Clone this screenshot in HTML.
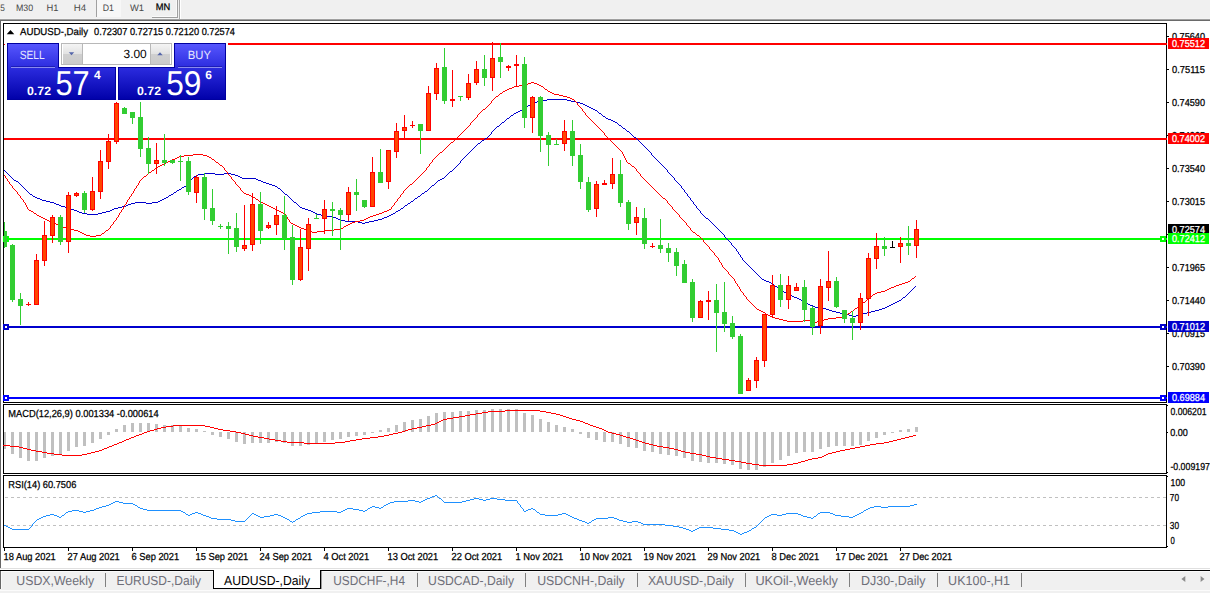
<!DOCTYPE html><html><head><meta charset="utf-8"><title>AUDUSD-,Daily</title><style>html,body{margin:0;padding:0;background:#fff;overflow:hidden}svg{display:block}</style></head><body><svg width="1210" height="593" viewBox="0 0 1210 593" font-family="Liberation Sans, sans-serif" style="text-rendering:geometricPrecision">
<rect x="0" y="0" width="1210" height="593" fill="#ffffff" />
<rect x="0" y="0" width="1210" height="19" fill="#f0f0f0" />
<rect x="0" y="18" width="1210" height="1" fill="#f3f3f3" />
<rect x="0" y="19" width="1210" height="1" fill="#a0a0a0" />
<rect x="0" y="20" width="1210" height="1" fill="#6a6a6a" />
<g shape-rendering="crispEdges">
<rect x="3" y="23" width="1164" height="1" fill="#000" />
<rect x="3" y="23" width="1" height="525" fill="#000" />
<rect x="1166" y="23" width="1" height="525" fill="#000" />
<rect x="3" y="402" width="1164" height="1" fill="#000" />
<rect x="3" y="404" width="1164" height="1" fill="#000" />
<rect x="3" y="473" width="1164" height="1" fill="#000" />
<rect x="3" y="475" width="1164" height="1" fill="#000" />
<rect x="3" y="547" width="1164" height="1" fill="#000" />
<rect x="3" y="403" width="1164" height="1" fill="#fff" />
<rect x="3" y="474" width="1164" height="1" fill="#fff" />
</g>
<defs><clipPath id="cm"><rect x="4" y="24" width="1162" height="378"/></clipPath>
<linearGradient id="gb" gradientUnits="userSpaceOnUse" x1="0" y1="43" x2="0" y2="100"><stop offset="0" stop-color="#5858ff"/><stop offset="0.45" stop-color="#2a2add"/><stop offset="1" stop-color="#0000a8"/></linearGradient>
<linearGradient id="gs" x1="0" y1="0" x2="0" y2="1"><stop offset="0" stop-color="#f4f4f4"/><stop offset="0.5" stop-color="#e2e2e2"/><stop offset="0.5" stop-color="#d0d0d0"/><stop offset="1" stop-color="#cacaca"/></linearGradient>
</defs>
<g clip-path="url(#cm)" shape-rendering="crispEdges">
<rect x="4" y="43" width="1162" height="2" fill="#ff0000" />
<rect x="4" y="138" width="1162" height="2" fill="#ff0000" />
<rect x="4" y="238" width="1162" height="2" fill="#00ff00" />
<rect x="4" y="326" width="1162" height="2" fill="#0000cd" />
<rect x="4" y="397" width="1162" height="2" fill="#0000ff" />
<path d="M547 99h20v1h-20zM541 100h6v1h-6zM567 100h4v1h-4zM537 101h4v1h-4zM571 101h5v1h-5zM534 102h3v1h-3zM576 102h4v1h-4zM532 103h2v1h-2zM580 103h3v1h-3zM530 104h2v1h-2zM583 104h2v1h-2zM528 105h2v1h-2zM585 105h2v1h-2zM526 106h2v1h-2zM587 106h2v1h-2zM525 107h1v1h-1zM589 107h2v1h-2zM523 108h2v1h-2zM591 108h2v1h-2zM522 109h1v1h-1zM593 109h2v1h-2zM520 110h2v1h-2zM595 110h2v1h-2zM518 111h2v1h-2zM597 111h1v1h-1zM516 112h2v1h-2zM598 112h1v1h-1zM514 113h2v1h-2zM599 113h2v1h-2zM513 114h1v1h-1zM601 114h1v1h-1zM511 115h2v1h-2zM602 115h1v1h-1zM510 116h1v1h-1zM603 116h2v1h-2zM509 117h1v1h-1zM605 117h1v1h-1zM507 118h2v1h-2zM606 118h2v1h-2zM506 119h1v1h-1zM608 119h3v1h-3zM505 120h1v1h-1zM611 120h2v1h-2zM504 121h1v1h-1zM613 121h2v1h-2zM502 122h2v1h-2zM615 122h2v1h-2zM501 123h1v1h-1zM617 123h1v1h-1zM500 124h1v1h-1zM618 124h1v1h-1zM499 125h1v1h-1zM619 125h2v1h-2zM497 126h2v1h-2zM621 126h1v1h-1zM496 127h1v1h-1zM622 127h1v1h-1zM495 128h1v1h-1zM623 128h2v1h-2zM494 129h1v1h-1zM625 129h1v1h-1zM493 130h1v1h-1zM626 130h1v1h-1zM492 131h1v1h-1zM627 131h2v1h-2zM629 132h1v1h-1zM491 132h1v2h-1zM630 133h1v1h-1zM490 134h1v1h-1zM631 134h1v1h-1zM489 135h1v1h-1zM632 135h1v1h-1zM488 136h1v1h-1zM633 136h1v1h-1zM487 137h1v1h-1zM634 137h2v1h-2zM485 138h2v1h-2zM636 138h1v1h-1zM484 139h1v1h-1zM637 139h1v1h-1zM482 140h2v1h-2zM638 140h1v1h-1zM481 141h1v1h-1zM639 141h1v1h-1zM480 142h1v1h-1zM640 142h1v1h-1zM478 143h2v1h-2zM641 143h1v1h-1zM477 144h1v1h-1zM642 144h1v1h-1zM476 145h1v1h-1zM643 145h1v1h-1zM475 146h1v1h-1zM644 146h1v1h-1zM474 147h1v1h-1zM645 147h1v1h-1zM473 148h1v1h-1zM646 148h1v1h-1zM472 149h1v1h-1zM647 149h1v1h-1zM471 150h1v1h-1zM648 150h1v1h-1zM470 151h1v1h-1zM649 151h1v1h-1zM469 152h1v1h-1zM650 152h1v1h-1zM468 153h1v1h-1zM651 153h1v2h-1zM467 154h1v1h-1zM466 155h1v1h-1zM652 155h1v1h-1zM465 156h1v1h-1zM653 156h1v1h-1zM464 157h1v1h-1zM654 157h1v1h-1zM463 158h1v1h-1zM655 158h1v1h-1zM462 159h1v1h-1zM656 159h1v1h-1zM461 160h1v1h-1zM657 160h1v1h-1zM658 161h1v1h-1zM460 161h1v2h-1zM659 162h1v1h-1zM459 163h1v1h-1zM660 163h1v1h-1zM458 164h1v1h-1zM661 164h1v1h-1zM457 165h1v1h-1zM662 165h1v1h-1zM456 166h1v1h-1zM663 166h1v1h-1zM455 167h1v1h-1zM664 167h1v1h-1zM454 168h1v1h-1zM665 168h1v1h-1zM453 169h1v1h-1zM666 169h1v1h-1zM4 170h1v1h-1zM452 170h1v1h-1zM667 170h1v2h-1zM5 171h1v1h-1zM450 171h2v1h-2zM6 172h1v1h-1zM449 172h1v1h-1zM668 172h1v1h-1zM7 173h1v1h-1zM204 173h11v1h-11zM224 173h7v1h-7zM448 173h1v1h-1zM669 173h1v1h-1zM8 174h1v1h-1zM198 174h6v1h-6zM215 174h9v1h-9zM231 174h4v1h-4zM447 174h1v1h-1zM670 174h1v1h-1zM9 175h1v1h-1zM196 175h2v1h-2zM235 175h3v1h-3zM446 175h1v1h-1zM671 175h1v1h-1zM10 176h1v1h-1zM194 176h2v1h-2zM238 176h2v1h-2zM445 176h1v1h-1zM672 176h1v1h-1zM11 177h1v1h-1zM193 177h1v1h-1zM240 177h2v1h-2zM444 177h1v1h-1zM673 177h1v1h-1zM12 178h1v1h-1zM192 178h1v1h-1zM242 178h14v1h-14zM442 178h2v1h-2zM674 178h1v2h-1zM13 179h1v1h-1zM191 179h1v1h-1zM256 179h2v1h-2zM440 179h2v1h-2zM14 180h2v1h-2zM190 180h1v1h-1zM258 180h3v1h-3zM438 180h2v1h-2zM675 180h1v1h-1zM16 181h2v1h-2zM189 181h1v1h-1zM261 181h2v1h-2zM437 181h1v1h-1zM676 181h1v1h-1zM18 182h1v1h-1zM263 182h3v1h-3zM436 182h1v1h-1zM677 182h1v1h-1zM188 182h1v2h-1zM19 183h1v1h-1zM266 183h3v1h-3zM435 183h1v1h-1zM678 183h1v1h-1zM20 184h1v1h-1zM187 184h1v1h-1zM269 184h3v1h-3zM434 184h1v1h-1zM679 184h1v1h-1zM21 185h1v1h-1zM186 185h1v1h-1zM272 185h3v1h-3zM432 185h2v1h-2zM680 185h1v1h-1zM22 186h1v1h-1zM184 186h2v1h-2zM275 186h2v1h-2zM431 186h1v1h-1zM681 186h1v2h-1zM23 187h1v1h-1zM182 187h2v1h-2zM277 187h1v1h-1zM430 187h1v1h-1zM24 188h1v1h-1zM181 188h1v1h-1zM278 188h2v1h-2zM429 188h1v1h-1zM682 188h1v1h-1zM25 189h1v1h-1zM179 189h2v1h-2zM280 189h1v1h-1zM428 189h1v1h-1zM683 189h1v1h-1zM26 190h1v1h-1zM177 190h2v1h-2zM281 190h1v1h-1zM427 190h1v1h-1zM684 190h1v2h-1zM27 191h1v1h-1zM176 191h1v1h-1zM282 191h1v1h-1zM425 191h2v1h-2zM28 192h1v1h-1zM174 192h2v1h-2zM283 192h1v1h-1zM424 192h1v1h-1zM685 192h1v1h-1zM29 193h1v1h-1zM173 193h1v1h-1zM284 193h1v1h-1zM422 193h2v1h-2zM686 193h1v1h-1zM30 194h2v1h-2zM171 194h2v1h-2zM285 194h2v1h-2zM421 194h1v1h-1zM687 194h1v2h-1zM32 195h1v1h-1zM169 195h2v1h-2zM287 195h1v1h-1zM420 195h1v1h-1zM33 196h2v1h-2zM168 196h1v1h-1zM288 196h1v1h-1zM418 196h2v1h-2zM688 196h1v1h-1zM35 197h2v1h-2zM166 197h2v1h-2zM289 197h1v1h-1zM417 197h1v1h-1zM689 197h1v1h-1zM37 198h3v1h-3zM164 198h2v1h-2zM290 198h1v1h-1zM415 198h2v1h-2zM690 198h1v2h-1zM40 199h2v1h-2zM162 199h2v1h-2zM291 199h1v1h-1zM414 199h1v1h-1zM42 200h4v1h-4zM160 200h2v1h-2zM292 200h1v1h-1zM413 200h1v1h-1zM691 200h1v1h-1zM46 201h4v1h-4zM158 201h2v1h-2zM293 201h1v1h-1zM411 201h2v1h-2zM692 201h1v1h-1zM50 202h4v1h-4zM135 202h11v1h-11zM152 202h6v1h-6zM294 202h2v1h-2zM410 202h1v1h-1zM693 202h1v2h-1zM54 203h2v1h-2zM131 203h4v1h-4zM146 203h6v1h-6zM296 203h1v1h-1zM408 203h2v1h-2zM56 204h3v1h-3zM128 204h3v1h-3zM297 204h1v1h-1zM407 204h1v1h-1zM694 204h1v1h-1zM59 205h2v1h-2zM126 205h2v1h-2zM298 205h1v1h-1zM405 205h2v1h-2zM695 205h1v1h-1zM61 206h4v1h-4zM122 206h4v1h-4zM299 206h1v1h-1zM404 206h1v1h-1zM696 206h1v2h-1zM65 207h3v1h-3zM118 207h4v1h-4zM300 207h2v1h-2zM403 207h1v1h-1zM68 208h3v1h-3zM114 208h4v1h-4zM302 208h3v1h-3zM401 208h2v1h-2zM697 208h1v1h-1zM71 209h3v1h-3zM112 209h2v1h-2zM305 209h3v1h-3zM400 209h1v1h-1zM698 209h1v1h-1zM74 210h3v1h-3zM110 210h2v1h-2zM308 210h3v1h-3zM398 210h2v1h-2zM699 210h1v1h-1zM77 211h2v1h-2zM106 211h4v1h-4zM311 211h2v1h-2zM396 211h2v1h-2zM700 211h1v2h-1zM79 212h3v1h-3zM102 212h4v1h-4zM313 212h2v1h-2zM395 212h1v1h-1zM82 213h5v1h-5zM98 213h4v1h-4zM315 213h2v1h-2zM393 213h2v1h-2zM701 213h1v1h-1zM87 214h11v1h-11zM317 214h4v1h-4zM391 214h2v1h-2zM702 214h1v1h-1zM321 215h5v1h-5zM389 215h2v1h-2zM703 215h1v1h-1zM326 216h6v1h-6zM387 216h2v1h-2zM704 216h1v1h-1zM332 217h4v1h-4zM384 217h3v1h-3zM705 217h1v1h-1zM336 218h2v1h-2zM382 218h2v1h-2zM706 218h2v1h-2zM338 219h2v1h-2zM378 219h4v1h-4zM708 219h1v1h-1zM340 220h5v1h-5zM374 220h4v1h-4zM709 220h1v1h-1zM345 221h13v1h-13zM369 221h5v1h-5zM710 221h1v1h-1zM358 222h4v1h-4zM365 222h4v1h-4zM711 222h1v1h-1zM362 223h3v1h-3zM712 223h1v1h-1zM713 224h1v1h-1zM714 225h1v1h-1zM715 226h1v1h-1zM716 227h1v1h-1zM717 228h1v1h-1zM718 229h1v1h-1zM719 230h1v1h-1zM720 231h1v1h-1zM721 232h1v1h-1zM722 233h1v1h-1zM723 234h1v1h-1zM724 235h1v2h-1zM725 237h1v1h-1zM726 238h1v1h-1zM727 239h1v1h-1zM728 240h1v1h-1zM729 241h1v1h-1zM730 242h1v1h-1zM731 243h1v2h-1zM732 245h1v1h-1zM733 246h1v1h-1zM734 247h1v1h-1zM735 248h1v1h-1zM736 249h1v2h-1zM737 251h1v1h-1zM738 252h1v2h-1zM739 254h1v1h-1zM740 255h1v2h-1zM741 257h1v1h-1zM742 258h1v2h-1zM743 260h1v1h-1zM744 261h1v1h-1zM745 262h1v1h-1zM746 263h1v1h-1zM747 264h1v1h-1zM748 265h1v1h-1zM749 266h1v1h-1zM750 267h1v1h-1zM751 268h1v1h-1zM752 269h1v1h-1zM753 270h1v1h-1zM754 271h1v1h-1zM755 272h1v1h-1zM756 273h1v1h-1zM757 274h1v1h-1zM758 275h1v1h-1zM759 276h1v1h-1zM760 277h1v1h-1zM761 278h1v1h-1zM762 279h2v1h-2zM764 280h2v1h-2zM766 281h3v1h-3zM769 282h2v1h-2zM771 283h2v1h-2zM773 284h1v1h-1zM774 285h1v1h-1zM775 286h2v1h-2zM915 286h1v1h-1zM777 287h1v1h-1zM914 287h1v1h-1zM778 288h1v1h-1zM913 288h1v1h-1zM779 289h1v1h-1zM912 289h1v1h-1zM780 290h2v1h-2zM911 290h1v1h-1zM782 291h2v1h-2zM910 291h1v1h-1zM784 292h2v1h-2zM909 292h1v1h-1zM786 293h2v1h-2zM908 293h1v1h-1zM788 294h2v1h-2zM907 294h1v1h-1zM790 295h2v1h-2zM906 295h1v1h-1zM792 296h2v1h-2zM905 296h1v1h-1zM794 297h3v1h-3zM903 297h2v1h-2zM797 298h2v1h-2zM902 298h1v1h-1zM799 299h2v1h-2zM901 299h1v1h-1zM801 300h2v1h-2zM899 300h2v1h-2zM803 301h2v1h-2zM897 301h2v1h-2zM805 302h1v1h-1zM895 302h2v1h-2zM806 303h2v1h-2zM893 303h2v1h-2zM808 304h2v1h-2zM891 304h2v1h-2zM810 305h3v1h-3zM889 305h2v1h-2zM813 306h2v1h-2zM887 306h2v1h-2zM815 307h6v1h-6zM885 307h2v1h-2zM821 308h5v1h-5zM882 308h3v1h-3zM826 309h3v1h-3zM879 309h3v1h-3zM829 310h3v1h-3zM875 310h4v1h-4zM832 311h4v1h-4zM871 311h4v1h-4zM836 312h4v1h-4zM867 312h4v1h-4zM840 313h5v1h-5zM863 313h4v1h-4zM845 314h4v1h-4zM860 314h3v1h-3zM849 315h4v1h-4zM856 315h4v1h-4zM853 316h3v1h-3z" fill="#0000cd"/>
<path d="M531 82h3v1h-3zM528 83h3v1h-3zM534 83h3v1h-3zM525 84h3v1h-3zM537 84h2v1h-2zM519 85h6v1h-6zM539 85h2v1h-2zM514 86h5v1h-5zM541 86h2v1h-2zM512 87h2v1h-2zM543 87h1v1h-1zM509 88h3v1h-3zM544 88h1v1h-1zM507 89h2v1h-2zM545 89h2v1h-2zM505 90h2v1h-2zM547 90h1v1h-1zM503 91h2v1h-2zM548 91h2v1h-2zM502 92h1v1h-1zM550 92h2v1h-2zM500 93h2v1h-2zM552 93h2v1h-2zM499 94h1v1h-1zM554 94h5v1h-5zM498 95h1v1h-1zM559 95h4v1h-4zM496 96h2v1h-2zM563 96h4v1h-4zM495 97h1v1h-1zM567 97h3v1h-3zM494 98h1v1h-1zM570 98h2v1h-2zM493 99h1v1h-1zM572 99h2v1h-2zM492 100h1v1h-1zM574 100h1v1h-1zM575 101h1v1h-1zM491 101h1v2h-1zM576 102h1v1h-1zM490 103h1v1h-1zM577 103h1v2h-1zM489 104h1v1h-1zM488 105h1v1h-1zM578 105h1v1h-1zM487 106h1v1h-1zM579 106h1v1h-1zM486 107h1v1h-1zM580 107h1v1h-1zM485 108h1v1h-1zM581 108h1v1h-1zM483 109h2v1h-2zM582 109h1v2h-1zM482 110h1v1h-1zM481 111h1v1h-1zM583 111h1v1h-1zM480 112h1v1h-1zM584 112h1v1h-1zM479 113h1v1h-1zM585 113h1v2h-1zM478 114h1v1h-1zM586 115h1v1h-1zM477 115h1v2h-1zM587 116h1v1h-1zM476 117h1v1h-1zM588 117h1v1h-1zM475 118h1v1h-1zM589 118h1v1h-1zM474 119h1v1h-1zM590 119h1v1h-1zM473 120h1v1h-1zM591 120h1v1h-1zM472 121h1v1h-1zM592 121h1v1h-1zM471 122h1v1h-1zM593 122h1v1h-1zM594 123h1v1h-1zM470 123h1v2h-1zM595 124h1v1h-1zM469 125h1v1h-1zM596 125h1v1h-1zM468 126h1v1h-1zM597 126h1v1h-1zM467 127h1v1h-1zM598 127h1v1h-1zM466 128h1v1h-1zM599 128h1v1h-1zM465 129h1v1h-1zM600 129h1v1h-1zM464 130h1v1h-1zM601 130h1v1h-1zM463 131h1v1h-1zM602 131h1v1h-1zM462 132h1v1h-1zM603 132h1v1h-1zM461 133h1v1h-1zM604 133h1v2h-1zM460 134h1v1h-1zM459 135h1v1h-1zM605 135h1v1h-1zM458 136h1v1h-1zM606 136h1v1h-1zM457 137h1v1h-1zM607 137h1v1h-1zM456 138h1v1h-1zM608 138h1v1h-1zM455 139h1v1h-1zM609 139h1v1h-1zM454 140h1v1h-1zM610 140h1v1h-1zM453 141h1v1h-1zM611 141h1v1h-1zM451 142h2v1h-2zM612 142h1v1h-1zM450 143h1v1h-1zM613 143h1v1h-1zM449 144h1v1h-1zM614 144h1v1h-1zM448 145h1v1h-1zM615 145h1v1h-1zM447 146h1v1h-1zM616 146h1v1h-1zM446 147h1v1h-1zM617 147h1v1h-1zM445 148h1v1h-1zM618 148h1v1h-1zM444 149h1v1h-1zM619 149h1v1h-1zM443 150h1v1h-1zM620 150h1v1h-1zM442 151h1v1h-1zM621 151h1v1h-1zM440 152h2v1h-2zM622 152h1v2h-1zM439 153h1v1h-1zM193 154h10v1h-10zM438 154h1v1h-1zM623 154h1v2h-1zM184 155h9v1h-9zM203 155h4v1h-4zM437 155h1v1h-1zM179 156h5v1h-5zM207 156h2v1h-2zM436 156h1v1h-1zM624 156h1v2h-1zM177 157h2v1h-2zM209 157h2v1h-2zM435 157h1v1h-1zM175 158h2v1h-2zM211 158h1v1h-1zM434 158h1v1h-1zM625 158h1v2h-1zM172 159h3v1h-3zM212 159h2v1h-2zM433 159h1v1h-1zM170 160h2v1h-2zM214 160h1v1h-1zM432 160h1v2h-1zM626 160h1v2h-1zM168 161h2v1h-2zM215 161h1v1h-1zM166 162h2v1h-2zM216 162h2v1h-2zM431 162h1v1h-1zM627 162h1v1h-1zM164 163h2v1h-2zM218 163h1v1h-1zM430 163h1v1h-1zM628 163h2v1h-2zM162 164h2v1h-2zM219 164h1v1h-1zM630 164h1v1h-1zM429 164h1v2h-1zM160 165h2v1h-2zM220 165h2v1h-2zM631 165h1v1h-1zM158 166h2v1h-2zM222 166h1v1h-1zM428 166h1v1h-1zM632 166h2v1h-2zM157 167h1v1h-1zM223 167h1v1h-1zM427 167h1v1h-1zM634 167h1v1h-1zM155 168h2v1h-2zM635 168h1v1h-1zM224 168h1v2h-1zM426 168h1v2h-1zM154 169h1v1h-1zM636 169h1v2h-1zM152 170h2v1h-2zM225 170h1v1h-1zM425 170h1v1h-1zM151 171h1v1h-1zM226 171h1v1h-1zM424 171h1v1h-1zM637 171h1v1h-1zM149 172h2v1h-2zM423 172h1v1h-1zM638 172h1v1h-1zM227 172h1v2h-1zM148 173h1v1h-1zM422 173h1v1h-1zM639 173h1v1h-1zM147 174h1v1h-1zM228 174h1v1h-1zM421 174h1v1h-1zM640 174h1v2h-1zM4 175h1v1h-1zM146 175h1v1h-1zM229 175h1v1h-1zM420 175h1v1h-1zM144 176h2v1h-2zM230 176h1v1h-1zM419 176h1v1h-1zM641 176h1v1h-1zM5 176h1v2h-1zM143 177h1v1h-1zM418 177h1v1h-1zM642 177h1v1h-1zM231 177h1v2h-1zM6 178h1v1h-1zM142 178h1v1h-1zM417 178h1v1h-1zM643 178h1v1h-1zM141 179h1v1h-1zM232 179h1v1h-1zM416 179h1v1h-1zM644 179h1v1h-1zM7 179h1v2h-1zM140 180h1v1h-1zM233 180h1v1h-1zM415 180h1v1h-1zM645 180h1v1h-1zM8 181h1v1h-1zM234 181h1v1h-1zM414 181h1v1h-1zM646 181h1v1h-1zM139 181h1v2h-1zM413 182h1v1h-1zM647 182h1v1h-1zM9 182h1v2h-1zM235 182h1v2h-1zM412 183h1v1h-1zM648 183h1v1h-1zM138 183h1v2h-1zM10 184h1v1h-1zM236 184h1v1h-1zM410 184h2v1h-2zM649 184h1v1h-1zM11 185h1v1h-1zM137 185h1v1h-1zM237 185h1v1h-1zM409 185h1v1h-1zM650 185h1v1h-1zM238 186h1v1h-1zM408 186h1v1h-1zM651 186h1v1h-1zM12 186h1v2h-1zM136 186h1v2h-1zM239 187h1v1h-1zM407 187h1v1h-1zM652 187h1v1h-1zM13 188h1v1h-1zM135 188h1v1h-1zM406 188h1v1h-1zM653 188h1v1h-1zM240 188h1v2h-1zM14 189h1v1h-1zM405 189h1v1h-1zM654 189h1v1h-1zM134 189h1v2h-1zM15 190h1v1h-1zM241 190h1v1h-1zM404 190h1v1h-1zM655 190h1v1h-1zM16 191h1v1h-1zM242 191h1v1h-1zM656 191h1v1h-1zM133 191h1v2h-1zM403 191h1v2h-1zM243 192h1v1h-1zM657 192h1v1h-1zM17 192h1v2h-1zM132 193h1v1h-1zM244 193h2v1h-2zM402 193h1v1h-1zM658 193h1v1h-1zM18 194h1v1h-1zM246 194h3v1h-3zM401 194h1v1h-1zM659 194h1v1h-1zM131 194h1v2h-1zM19 195h1v1h-1zM249 195h2v1h-2zM660 195h1v1h-1zM400 195h1v2h-1zM130 196h1v1h-1zM251 196h2v1h-2zM661 196h1v1h-1zM20 196h1v2h-1zM253 197h2v1h-2zM399 197h1v1h-1zM662 197h1v1h-1zM129 197h1v2h-1zM21 198h1v1h-1zM255 198h1v1h-1zM398 198h1v1h-1zM663 198h2v1h-2zM22 199h1v1h-1zM128 199h1v1h-1zM256 199h2v1h-2zM665 199h1v1h-1zM397 199h1v2h-1zM258 200h1v1h-1zM666 200h1v1h-1zM23 200h1v2h-1zM127 200h1v2h-1zM259 201h2v1h-2zM396 201h1v1h-1zM667 201h1v2h-1zM24 202h1v1h-1zM261 202h2v1h-2zM395 202h1v1h-1zM126 202h1v2h-1zM263 203h2v1h-2zM668 203h1v1h-1zM25 203h1v2h-1zM394 203h1v2h-1zM125 204h1v1h-1zM265 204h2v1h-2zM669 204h1v1h-1zM267 205h2v1h-2zM393 205h1v1h-1zM670 205h1v1h-1zM26 205h1v2h-1zM124 205h1v2h-1zM269 206h2v1h-2zM392 206h1v1h-1zM671 206h1v1h-1zM271 207h2v1h-2zM27 207h1v2h-1zM123 207h1v2h-1zM391 207h1v2h-1zM672 207h1v2h-1zM273 208h2v1h-2zM28 209h1v1h-1zM122 209h1v1h-1zM275 209h2v1h-2zM389 209h2v1h-2zM673 209h1v1h-1zM29 210h2v1h-2zM277 210h2v1h-2zM387 210h2v1h-2zM674 210h1v1h-1zM121 210h1v2h-1zM31 211h2v1h-2zM279 211h2v1h-2zM384 211h3v1h-3zM675 211h1v1h-1zM33 212h1v1h-1zM120 212h1v1h-1zM281 212h2v1h-2zM382 212h2v1h-2zM676 212h1v1h-1zM34 213h2v1h-2zM283 213h2v1h-2zM379 213h3v1h-3zM677 213h1v1h-1zM119 213h1v2h-1zM36 214h1v1h-1zM285 214h1v1h-1zM376 214h3v1h-3zM678 214h1v1h-1zM37 215h2v1h-2zM373 215h3v1h-3zM118 215h1v2h-1zM286 215h1v2h-1zM679 215h1v2h-1zM39 216h2v1h-2zM370 216h3v1h-3zM41 217h2v1h-2zM117 217h1v1h-1zM368 217h2v1h-2zM680 217h1v1h-1zM287 217h1v2h-1zM43 218h2v1h-2zM366 218h2v1h-2zM681 218h1v1h-1zM116 218h1v2h-1zM45 219h2v1h-2zM288 219h1v1h-1zM364 219h2v1h-2zM682 219h1v1h-1zM47 220h2v1h-2zM115 220h1v1h-1zM360 220h4v1h-4zM683 220h1v1h-1zM289 220h1v2h-1zM49 221h2v1h-2zM114 221h1v1h-1zM355 221h5v1h-5zM684 221h1v1h-1zM51 222h3v1h-3zM290 222h1v1h-1zM352 222h3v1h-3zM685 222h1v1h-1zM113 222h1v2h-1zM54 223h2v1h-2zM291 223h2v1h-2zM350 223h2v1h-2zM686 223h1v2h-1zM56 224h3v1h-3zM112 224h1v1h-1zM293 224h2v1h-2zM348 224h2v1h-2zM59 225h2v1h-2zM111 225h1v1h-1zM295 225h2v1h-2zM346 225h2v1h-2zM687 225h1v1h-1zM61 226h2v1h-2zM297 226h2v1h-2zM344 226h2v1h-2zM688 226h1v1h-1zM110 226h1v2h-1zM63 227h3v1h-3zM299 227h2v1h-2zM343 227h1v1h-1zM689 227h1v1h-1zM66 228h4v1h-4zM109 228h1v1h-1zM301 228h3v1h-3zM341 228h2v1h-2zM690 228h1v2h-1zM70 229h4v1h-4zM108 229h1v1h-1zM304 229h3v1h-3zM334 229h7v1h-7zM74 230h4v1h-4zM106 230h2v1h-2zM307 230h3v1h-3zM324 230h10v1h-10zM691 230h1v1h-1zM78 231h2v1h-2zM105 231h1v1h-1zM310 231h2v1h-2zM317 231h7v1h-7zM692 231h1v1h-1zM80 232h2v1h-2zM104 232h1v1h-1zM312 232h5v1h-5zM693 232h2v1h-2zM82 233h2v1h-2zM102 233h2v1h-2zM695 233h1v1h-1zM84 234h2v1h-2zM101 234h1v1h-1zM696 234h1v1h-1zM86 235h4v1h-4zM96 235h5v1h-5zM697 235h2v1h-2zM90 236h6v1h-6zM699 236h1v1h-1zM700 237h1v1h-1zM701 238h1v1h-1zM702 239h1v1h-1zM703 240h1v2h-1zM704 242h1v1h-1zM705 243h1v1h-1zM706 244h1v1h-1zM707 245h1v1h-1zM708 246h1v1h-1zM709 247h1v2h-1zM710 249h1v1h-1zM711 250h1v1h-1zM712 251h1v1h-1zM713 252h1v1h-1zM714 253h1v2h-1zM715 255h1v1h-1zM716 256h1v1h-1zM717 257h1v1h-1zM718 258h1v2h-1zM719 260h1v2h-1zM720 262h1v1h-1zM721 263h1v2h-1zM722 265h1v2h-1zM723 267h1v1h-1zM724 268h1v1h-1zM725 269h1v1h-1zM726 270h1v1h-1zM727 271h1v1h-1zM728 272h1v2h-1zM729 274h1v1h-1zM730 275h1v1h-1zM731 276h1v1h-1zM915 276h1v1h-1zM732 277h1v1h-1zM914 277h1v1h-1zM733 278h1v1h-1zM912 278h2v1h-2zM911 279h1v1h-1zM734 279h1v2h-1zM910 280h1v1h-1zM908 281h2v1h-2zM735 281h1v2h-1zM905 282h3v1h-3zM736 283h1v1h-1zM902 283h3v1h-3zM899 284h3v1h-3zM737 284h1v2h-1zM896 285h3v1h-3zM738 286h1v1h-1zM894 286h2v1h-2zM891 287h3v1h-3zM739 287h1v2h-1zM889 288h2v1h-2zM887 289h2v1h-2zM740 289h1v2h-1zM885 290h2v1h-2zM741 291h1v1h-1zM881 291h4v1h-4zM742 292h1v1h-1zM877 292h4v1h-4zM875 293h2v1h-2zM743 293h1v2h-1zM873 294h2v1h-2zM744 295h1v1h-1zM872 295h1v1h-1zM745 296h1v1h-1zM871 296h1v1h-1zM869 297h2v1h-2zM746 297h1v2h-1zM868 298h1v1h-1zM747 299h1v1h-1zM867 299h1v1h-1zM748 300h1v1h-1zM866 300h1v1h-1zM749 301h1v1h-1zM865 301h1v1h-1zM750 302h1v1h-1zM863 302h2v1h-2zM751 303h1v1h-1zM862 303h1v1h-1zM752 304h1v1h-1zM861 304h1v1h-1zM753 305h1v1h-1zM859 305h2v1h-2zM754 306h1v1h-1zM858 306h1v1h-1zM755 307h1v1h-1zM857 307h1v1h-1zM756 308h1v1h-1zM855 308h2v1h-2zM757 309h2v1h-2zM854 309h1v1h-1zM759 310h2v1h-2zM853 310h1v1h-1zM761 311h2v1h-2zM851 311h2v1h-2zM763 312h2v1h-2zM850 312h1v1h-1zM765 313h1v1h-1zM848 313h2v1h-2zM766 314h2v1h-2zM846 314h2v1h-2zM768 315h2v1h-2zM844 315h2v1h-2zM770 316h2v1h-2zM842 316h2v1h-2zM772 317h3v1h-3zM836 317h6v1h-6zM775 318h4v1h-4zM828 318h8v1h-8zM779 319h4v1h-4zM824 319h4v1h-4zM783 320h4v1h-4zM803 320h7v1h-7zM820 320h4v1h-4zM787 321h16v1h-16zM810 321h4v1h-4zM817 321h3v1h-3zM814 322h3v1h-3z" fill="#ff0000"/>
<rect x="4" y="222" width="1" height="26" fill="#32cd32" />
<rect x="2" y="231" width="5" height="16" fill="#32cd32" />
<rect x="12" y="244" width="1" height="58" fill="#32cd32" />
<rect x="10" y="245" width="5" height="55" fill="#32cd32" />
<rect x="20" y="293" width="1" height="32" fill="#32cd32" />
<rect x="18" y="299" width="5" height="7" fill="#32cd32" />
<rect x="28" y="302" width="1" height="4" fill="#ff0000" />
<rect x="26" y="304" width="5" height="1" fill="#ff0000" />
<rect x="36" y="254" width="1" height="51" fill="#ff0000" />
<rect x="34" y="260" width="5" height="45" fill="#ff0000" />
<rect x="35" y="261" width="3" height="43" fill="#ff4500" />
<rect x="44" y="221" width="1" height="45" fill="#ff0000" />
<rect x="42" y="235" width="5" height="26" fill="#ff0000" />
<rect x="43" y="236" width="3" height="24" fill="#ff4500" />
<rect x="52" y="215" width="1" height="28" fill="#ff0000" />
<rect x="50" y="217" width="5" height="19" fill="#ff0000" />
<rect x="51" y="218" width="3" height="17" fill="#ff4500" />
<rect x="60" y="215" width="1" height="30" fill="#32cd32" />
<rect x="58" y="217" width="5" height="25" fill="#32cd32" />
<rect x="68" y="192" width="1" height="61" fill="#ff0000" />
<rect x="66" y="195" width="5" height="47" fill="#ff0000" />
<rect x="67" y="196" width="3" height="45" fill="#ff4500" />
<rect x="76" y="192" width="1" height="5" fill="#ff0000" />
<rect x="74" y="193" width="5" height="3" fill="#ff0000" />
<rect x="75" y="194" width="3" height="1" fill="#ff4500" />
<rect x="84" y="191" width="1" height="22" fill="#32cd32" />
<rect x="82" y="193" width="5" height="17" fill="#32cd32" />
<rect x="92" y="177" width="1" height="34" fill="#ff0000" />
<rect x="90" y="191" width="5" height="19" fill="#ff0000" />
<rect x="91" y="192" width="3" height="17" fill="#ff4500" />
<rect x="100" y="150" width="1" height="49" fill="#ff0000" />
<rect x="98" y="161" width="5" height="31" fill="#ff0000" />
<rect x="99" y="162" width="3" height="29" fill="#ff4500" />
<rect x="108" y="134" width="1" height="35" fill="#ff0000" />
<rect x="106" y="141" width="5" height="21" fill="#ff0000" />
<rect x="107" y="142" width="3" height="19" fill="#ff4500" />
<rect x="116" y="102" width="1" height="42" fill="#ff0000" />
<rect x="114" y="103" width="5" height="39" fill="#ff0000" />
<rect x="115" y="104" width="3" height="37" fill="#ff4500" />
<rect x="124" y="107" width="1" height="7" fill="#32cd32" />
<rect x="122" y="108" width="5" height="6" fill="#32cd32" />
<rect x="132" y="112" width="1" height="12" fill="#32cd32" />
<rect x="130" y="112" width="5" height="6" fill="#32cd32" />
<rect x="140" y="102" width="1" height="55" fill="#32cd32" />
<rect x="138" y="117" width="5" height="32" fill="#32cd32" />
<rect x="148" y="137" width="1" height="37" fill="#32cd32" />
<rect x="146" y="148" width="5" height="16" fill="#32cd32" />
<rect x="156" y="143" width="1" height="31" fill="#ff0000" />
<rect x="154" y="160" width="5" height="4" fill="#ff0000" />
<rect x="155" y="161" width="3" height="2" fill="#ff4500" />
<rect x="164" y="134" width="1" height="32" fill="#32cd32" />
<rect x="162" y="160" width="5" height="3" fill="#32cd32" />
<rect x="172" y="160" width="1" height="4" fill="#32cd32" />
<rect x="170" y="160" width="5" height="3" fill="#32cd32" />
<rect x="180" y="155" width="1" height="26" fill="#32cd32" />
<rect x="178" y="161" width="5" height="1" fill="#32cd32" />
<rect x="188" y="157" width="1" height="38" fill="#32cd32" />
<rect x="186" y="161" width="5" height="31" fill="#32cd32" />
<rect x="196" y="175" width="1" height="28" fill="#ff0000" />
<rect x="194" y="177" width="5" height="16" fill="#ff0000" />
<rect x="195" y="178" width="3" height="14" fill="#ff4500" />
<rect x="204" y="173" width="1" height="47" fill="#32cd32" />
<rect x="202" y="177" width="5" height="32" fill="#32cd32" />
<rect x="212" y="189" width="1" height="36" fill="#32cd32" />
<rect x="210" y="208" width="5" height="13" fill="#32cd32" />
<rect x="220" y="224" width="1" height="5" fill="#32cd32" />
<rect x="218" y="226" width="5" height="1" fill="#32cd32" />
<rect x="228" y="222" width="1" height="32" fill="#32cd32" />
<rect x="226" y="226" width="5" height="3" fill="#32cd32" />
<rect x="236" y="213" width="1" height="39" fill="#32cd32" />
<rect x="234" y="228" width="5" height="19" fill="#32cd32" />
<rect x="244" y="205" width="1" height="46" fill="#ff0000" />
<rect x="242" y="245" width="5" height="4" fill="#ff0000" />
<rect x="243" y="246" width="3" height="2" fill="#ff4500" />
<rect x="252" y="193" width="1" height="58" fill="#ff0000" />
<rect x="250" y="204" width="5" height="41" fill="#ff0000" />
<rect x="251" y="205" width="3" height="39" fill="#ff4500" />
<rect x="260" y="192" width="1" height="52" fill="#32cd32" />
<rect x="258" y="204" width="5" height="27" fill="#32cd32" />
<rect x="268" y="222" width="1" height="7" fill="#ff0000" />
<rect x="266" y="225" width="5" height="3" fill="#ff0000" />
<rect x="267" y="226" width="3" height="1" fill="#ff4500" />
<rect x="276" y="206" width="1" height="29" fill="#ff0000" />
<rect x="274" y="215" width="5" height="10" fill="#ff0000" />
<rect x="275" y="216" width="3" height="8" fill="#ff4500" />
<rect x="284" y="196" width="1" height="54" fill="#32cd32" />
<rect x="282" y="215" width="5" height="24" fill="#32cd32" />
<rect x="292" y="225" width="1" height="60" fill="#32cd32" />
<rect x="290" y="237" width="5" height="43" fill="#32cd32" />
<rect x="300" y="229" width="1" height="52" fill="#ff0000" />
<rect x="298" y="247" width="5" height="33" fill="#ff0000" />
<rect x="299" y="248" width="3" height="31" fill="#ff4500" />
<rect x="308" y="218" width="1" height="53" fill="#ff0000" />
<rect x="306" y="224" width="5" height="25" fill="#ff0000" />
<rect x="307" y="225" width="3" height="23" fill="#ff4500" />
<rect x="316" y="214" width="1" height="4" fill="#32cd32" />
<rect x="314" y="218" width="5" height="1" fill="#32cd32" />
<rect x="324" y="200" width="1" height="34" fill="#ff0000" />
<rect x="322" y="209" width="5" height="10" fill="#ff0000" />
<rect x="323" y="210" width="3" height="8" fill="#ff4500" />
<rect x="332" y="202" width="1" height="34" fill="#32cd32" />
<rect x="330" y="209" width="5" height="2" fill="#32cd32" />
<rect x="340" y="208" width="1" height="42" fill="#32cd32" />
<rect x="338" y="210" width="5" height="5" fill="#32cd32" />
<rect x="348" y="187" width="1" height="34" fill="#ff0000" />
<rect x="346" y="192" width="5" height="23" fill="#ff0000" />
<rect x="347" y="193" width="3" height="21" fill="#ff4500" />
<rect x="356" y="179" width="1" height="32" fill="#32cd32" />
<rect x="354" y="192" width="5" height="3" fill="#32cd32" />
<rect x="364" y="200" width="1" height="8" fill="#32cd32" />
<rect x="362" y="200" width="5" height="7" fill="#32cd32" />
<rect x="372" y="157" width="1" height="50" fill="#ff0000" />
<rect x="370" y="172" width="5" height="35" fill="#ff0000" />
<rect x="371" y="173" width="3" height="33" fill="#ff4500" />
<rect x="380" y="149" width="1" height="34" fill="#32cd32" />
<rect x="378" y="172" width="5" height="11" fill="#32cd32" />
<rect x="388" y="150" width="1" height="39" fill="#ff0000" />
<rect x="386" y="150" width="5" height="32" fill="#ff0000" />
<rect x="387" y="151" width="3" height="30" fill="#ff4500" />
<rect x="396" y="123" width="1" height="35" fill="#ff0000" />
<rect x="394" y="131" width="5" height="21" fill="#ff0000" />
<rect x="395" y="132" width="3" height="19" fill="#ff4500" />
<rect x="404" y="115" width="1" height="23" fill="#ff0000" />
<rect x="402" y="127" width="5" height="4" fill="#ff0000" />
<rect x="403" y="128" width="3" height="2" fill="#ff4500" />
<rect x="412" y="121" width="1" height="7" fill="#ff0000" />
<rect x="410" y="125" width="5" height="1" fill="#ff0000" />
<rect x="420" y="124" width="1" height="30" fill="#32cd32" />
<rect x="418" y="124" width="5" height="7" fill="#32cd32" />
<rect x="428" y="86" width="1" height="45" fill="#ff0000" />
<rect x="426" y="93" width="5" height="38" fill="#ff0000" />
<rect x="427" y="94" width="3" height="36" fill="#ff4500" />
<rect x="436" y="63" width="1" height="37" fill="#ff0000" />
<rect x="434" y="68" width="5" height="26" fill="#ff0000" />
<rect x="435" y="69" width="3" height="24" fill="#ff4500" />
<rect x="444" y="48" width="1" height="56" fill="#32cd32" />
<rect x="442" y="67" width="5" height="34" fill="#32cd32" />
<rect x="452" y="70" width="1" height="37" fill="#ff0000" />
<rect x="450" y="99" width="5" height="2" fill="#ff0000" />
<rect x="460" y="96" width="1" height="5" fill="#32cd32" />
<rect x="458" y="96" width="5" height="1" fill="#32cd32" />
<rect x="468" y="74" width="1" height="26" fill="#ff0000" />
<rect x="466" y="83" width="5" height="15" fill="#ff0000" />
<rect x="467" y="84" width="3" height="13" fill="#ff4500" />
<rect x="476" y="61" width="1" height="24" fill="#ff0000" />
<rect x="474" y="69" width="5" height="14" fill="#ff0000" />
<rect x="475" y="70" width="3" height="12" fill="#ff4500" />
<rect x="484" y="55" width="1" height="31" fill="#32cd32" />
<rect x="482" y="69" width="5" height="9" fill="#32cd32" />
<rect x="492" y="42" width="1" height="49" fill="#ff0000" />
<rect x="490" y="58" width="5" height="20" fill="#ff0000" />
<rect x="491" y="59" width="3" height="18" fill="#ff4500" />
<rect x="500" y="43" width="1" height="35" fill="#32cd32" />
<rect x="498" y="57" width="5" height="5" fill="#32cd32" />
<rect x="508" y="65" width="1" height="6" fill="#ff0000" />
<rect x="506" y="66" width="5" height="2" fill="#ff0000" />
<rect x="516" y="55" width="1" height="31" fill="#ff0000" />
<rect x="514" y="64" width="5" height="2" fill="#ff0000" />
<rect x="524" y="57" width="1" height="71" fill="#32cd32" />
<rect x="522" y="64" width="5" height="54" fill="#32cd32" />
<rect x="532" y="96" width="1" height="37" fill="#ff0000" />
<rect x="530" y="97" width="5" height="21" fill="#ff0000" />
<rect x="531" y="98" width="3" height="19" fill="#ff4500" />
<rect x="540" y="96" width="1" height="56" fill="#32cd32" />
<rect x="538" y="97" width="5" height="39" fill="#32cd32" />
<rect x="548" y="132" width="1" height="34" fill="#32cd32" />
<rect x="546" y="135" width="5" height="10" fill="#32cd32" />
<rect x="556" y="139" width="1" height="5" fill="#32cd32" />
<rect x="554" y="144" width="5" height="1" fill="#32cd32" />
<rect x="564" y="120" width="1" height="31" fill="#ff0000" />
<rect x="562" y="131" width="5" height="13" fill="#ff0000" />
<rect x="563" y="132" width="3" height="11" fill="#ff4500" />
<rect x="572" y="120" width="1" height="46" fill="#32cd32" />
<rect x="570" y="131" width="5" height="25" fill="#32cd32" />
<rect x="580" y="144" width="1" height="45" fill="#32cd32" />
<rect x="578" y="155" width="5" height="27" fill="#32cd32" />
<rect x="588" y="177" width="1" height="35" fill="#32cd32" />
<rect x="586" y="182" width="5" height="28" fill="#32cd32" />
<rect x="596" y="181" width="1" height="36" fill="#ff0000" />
<rect x="594" y="184" width="5" height="25" fill="#ff0000" />
<rect x="595" y="185" width="3" height="23" fill="#ff4500" />
<rect x="604" y="180" width="1" height="5" fill="#ff0000" />
<rect x="602" y="183" width="5" height="2" fill="#ff0000" />
<rect x="612" y="158" width="1" height="31" fill="#ff0000" />
<rect x="610" y="174" width="5" height="10" fill="#ff0000" />
<rect x="611" y="175" width="3" height="8" fill="#ff4500" />
<rect x="620" y="160" width="1" height="47" fill="#32cd32" />
<rect x="618" y="174" width="5" height="29" fill="#32cd32" />
<rect x="628" y="200" width="1" height="30" fill="#32cd32" />
<rect x="626" y="202" width="5" height="22" fill="#32cd32" />
<rect x="636" y="207" width="1" height="28" fill="#ff0000" />
<rect x="634" y="217" width="5" height="6" fill="#ff0000" />
<rect x="635" y="218" width="3" height="4" fill="#ff4500" />
<rect x="644" y="208" width="1" height="41" fill="#32cd32" />
<rect x="642" y="218" width="5" height="26" fill="#32cd32" />
<rect x="652" y="243" width="1" height="5" fill="#ff0000" />
<rect x="650" y="246" width="5" height="1" fill="#ff0000" />
<rect x="660" y="219" width="1" height="34" fill="#32cd32" />
<rect x="658" y="245" width="5" height="4" fill="#32cd32" />
<rect x="668" y="243" width="1" height="19" fill="#32cd32" />
<rect x="666" y="248" width="5" height="5" fill="#32cd32" />
<rect x="676" y="248" width="1" height="28" fill="#32cd32" />
<rect x="674" y="252" width="5" height="14" fill="#32cd32" />
<rect x="684" y="260" width="1" height="23" fill="#32cd32" />
<rect x="682" y="264" width="5" height="19" fill="#32cd32" />
<rect x="692" y="279" width="1" height="43" fill="#32cd32" />
<rect x="690" y="282" width="5" height="36" fill="#32cd32" />
<rect x="700" y="300" width="1" height="18" fill="#ff0000" />
<rect x="698" y="301" width="5" height="17" fill="#ff0000" />
<rect x="699" y="302" width="3" height="15" fill="#ff4500" />
<rect x="708" y="291" width="1" height="29" fill="#ff0000" />
<rect x="706" y="300" width="5" height="2" fill="#ff0000" />
<rect x="716" y="284" width="1" height="68" fill="#32cd32" />
<rect x="714" y="300" width="5" height="13" fill="#32cd32" />
<rect x="724" y="282" width="1" height="50" fill="#32cd32" />
<rect x="722" y="312" width="5" height="12" fill="#32cd32" />
<rect x="732" y="316" width="1" height="23" fill="#32cd32" />
<rect x="730" y="323" width="5" height="14" fill="#32cd32" />
<rect x="740" y="334" width="1" height="60" fill="#32cd32" />
<rect x="738" y="336" width="5" height="58" fill="#32cd32" />
<rect x="748" y="378" width="1" height="13" fill="#ff0000" />
<rect x="746" y="380" width="5" height="11" fill="#ff0000" />
<rect x="747" y="381" width="3" height="9" fill="#ff4500" />
<rect x="756" y="357" width="1" height="31" fill="#ff0000" />
<rect x="754" y="360" width="5" height="21" fill="#ff0000" />
<rect x="755" y="361" width="3" height="19" fill="#ff4500" />
<rect x="764" y="314" width="1" height="53" fill="#ff0000" />
<rect x="762" y="314" width="5" height="47" fill="#ff0000" />
<rect x="763" y="315" width="3" height="45" fill="#ff4500" />
<rect x="772" y="275" width="1" height="43" fill="#ff0000" />
<rect x="770" y="285" width="5" height="30" fill="#ff0000" />
<rect x="771" y="286" width="3" height="28" fill="#ff4500" />
<rect x="780" y="274" width="1" height="33" fill="#32cd32" />
<rect x="778" y="285" width="5" height="15" fill="#32cd32" />
<rect x="788" y="276" width="1" height="33" fill="#ff0000" />
<rect x="786" y="285" width="5" height="15" fill="#ff0000" />
<rect x="787" y="286" width="3" height="13" fill="#ff4500" />
<rect x="796" y="283" width="1" height="8" fill="#ff0000" />
<rect x="794" y="287" width="5" height="4" fill="#ff0000" />
<rect x="795" y="288" width="3" height="2" fill="#ff4500" />
<rect x="804" y="280" width="1" height="42" fill="#32cd32" />
<rect x="802" y="287" width="5" height="23" fill="#32cd32" />
<rect x="812" y="306" width="1" height="29" fill="#32cd32" />
<rect x="810" y="308" width="5" height="19" fill="#32cd32" />
<rect x="820" y="279" width="1" height="55" fill="#ff0000" />
<rect x="818" y="286" width="5" height="40" fill="#ff0000" />
<rect x="819" y="287" width="3" height="38" fill="#ff4500" />
<rect x="828" y="251" width="1" height="50" fill="#ff0000" />
<rect x="826" y="281" width="5" height="7" fill="#ff0000" />
<rect x="827" y="282" width="3" height="5" fill="#ff4500" />
<rect x="836" y="277" width="1" height="31" fill="#32cd32" />
<rect x="834" y="281" width="5" height="26" fill="#32cd32" />
<rect x="844" y="310" width="1" height="13" fill="#32cd32" />
<rect x="842" y="310" width="5" height="9" fill="#32cd32" />
<rect x="852" y="311" width="1" height="29" fill="#32cd32" />
<rect x="850" y="318" width="5" height="5" fill="#32cd32" />
<rect x="860" y="293" width="1" height="37" fill="#ff0000" />
<rect x="858" y="298" width="5" height="25" fill="#ff0000" />
<rect x="859" y="299" width="3" height="23" fill="#ff4500" />
<rect x="868" y="253" width="1" height="63" fill="#ff0000" />
<rect x="866" y="258" width="5" height="41" fill="#ff0000" />
<rect x="867" y="259" width="3" height="39" fill="#ff4500" />
<rect x="876" y="233" width="1" height="36" fill="#ff0000" />
<rect x="874" y="246" width="5" height="13" fill="#ff0000" />
<rect x="875" y="247" width="3" height="11" fill="#ff4500" />
<rect x="884" y="237" width="1" height="19" fill="#32cd32" />
<rect x="882" y="246" width="5" height="3" fill="#32cd32" />
<rect x="892" y="241" width="1" height="6" fill="#000000" />
<rect x="890" y="247" width="5" height="1" fill="#000000" />
<rect x="900" y="237" width="1" height="26" fill="#ff0000" />
<rect x="898" y="243" width="5" height="4" fill="#ff0000" />
<rect x="899" y="244" width="3" height="2" fill="#ff4500" />
<rect x="908" y="226" width="1" height="29" fill="#32cd32" />
<rect x="906" y="243" width="5" height="3" fill="#32cd32" />
<rect x="916" y="220" width="1" height="38" fill="#ff0000" />
<rect x="914" y="229" width="5" height="17" fill="#ff0000" />
<rect x="915" y="230" width="3" height="15" fill="#ff4500" />
</g>
<g shape-rendering="crispEdges">
<rect x="1166" y="43" width="1" height="2" fill="#ff0000" />
<rect x="1166" y="138" width="1" height="2" fill="#ff0000" />
<rect x="1166" y="238" width="1" height="2" fill="#00ff00" />
<rect x="1166" y="326" width="1" height="2" fill="#0000cd" />
<rect x="1166" y="397" width="1" height="2" fill="#0000ff" />
<rect x="3" y="324" width="6" height="6" fill="#0000cd" />
<rect x="5" y="326" width="2" height="2" fill="#fff" />
<rect x="1160" y="324" width="6" height="6" fill="#0000cd" />
<rect x="1162" y="326" width="2" height="2" fill="#fff" />
<rect x="3" y="395" width="6" height="6" fill="#0000ff" />
<rect x="5" y="397" width="2" height="2" fill="#fff" />
<rect x="1160" y="395" width="6" height="6" fill="#0000ff" />
<rect x="1162" y="397" width="2" height="2" fill="#fff" />
<rect x="3" y="236" width="6" height="6" fill="#00ff00" />
<rect x="5" y="238" width="2" height="2" fill="#fff" />
<rect x="1160" y="236" width="6" height="6" fill="#00ff00" />
<rect x="1162" y="238" width="2" height="2" fill="#fff" />
<rect x="4" y="222" width="1" height="26" fill="#32cd32" />
<rect x="4" y="231" width="3" height="16" fill="#32cd32" />
</g>
<g shape-rendering="crispEdges">
<rect x="4" y="432" width="2" height="17" fill="#c0c0c0" />
<rect x="11" y="432" width="3" height="22" fill="#c0c0c0" />
<rect x="19" y="432" width="3" height="26" fill="#c0c0c0" />
<rect x="27" y="432" width="3" height="29" fill="#c0c0c0" />
<rect x="35" y="432" width="3" height="29" fill="#c0c0c0" />
<rect x="43" y="432" width="3" height="26" fill="#c0c0c0" />
<rect x="51" y="432" width="3" height="24" fill="#c0c0c0" />
<rect x="59" y="432" width="3" height="22" fill="#c0c0c0" />
<rect x="67" y="432" width="3" height="19" fill="#c0c0c0" />
<rect x="75" y="432" width="3" height="15" fill="#c0c0c0" />
<rect x="83" y="432" width="3" height="14" fill="#c0c0c0" />
<rect x="91" y="432" width="3" height="11" fill="#c0c0c0" />
<rect x="99" y="432" width="3" height="7" fill="#c0c0c0" />
<rect x="107" y="432" width="3" height="3" fill="#c0c0c0" />
<rect x="115" y="429" width="3" height="3" fill="#c0c0c0" />
<rect x="123" y="425" width="3" height="7" fill="#c0c0c0" />
<rect x="131" y="423" width="3" height="9" fill="#c0c0c0" />
<rect x="139" y="423" width="3" height="9" fill="#c0c0c0" />
<rect x="147" y="423" width="3" height="9" fill="#c0c0c0" />
<rect x="155" y="424" width="3" height="8" fill="#c0c0c0" />
<rect x="163" y="425" width="3" height="7" fill="#c0c0c0" />
<rect x="171" y="425" width="3" height="7" fill="#c0c0c0" />
<rect x="179" y="426" width="3" height="6" fill="#c0c0c0" />
<rect x="187" y="428" width="3" height="4" fill="#c0c0c0" />
<rect x="195" y="429" width="3" height="3" fill="#c0c0c0" />
<rect x="203" y="431" width="3" height="1" fill="#c0c0c0" />
<rect x="211" y="432" width="3" height="3" fill="#c0c0c0" />
<rect x="219" y="432" width="3" height="5" fill="#c0c0c0" />
<rect x="227" y="432" width="3" height="7" fill="#c0c0c0" />
<rect x="235" y="432" width="3" height="10" fill="#c0c0c0" />
<rect x="243" y="432" width="3" height="12" fill="#c0c0c0" />
<rect x="251" y="432" width="3" height="11" fill="#c0c0c0" />
<rect x="259" y="432" width="3" height="11" fill="#c0c0c0" />
<rect x="267" y="432" width="3" height="11" fill="#c0c0c0" />
<rect x="275" y="432" width="3" height="10" fill="#c0c0c0" />
<rect x="283" y="432" width="3" height="11" fill="#c0c0c0" />
<rect x="291" y="432" width="3" height="14" fill="#c0c0c0" />
<rect x="299" y="432" width="3" height="14" fill="#c0c0c0" />
<rect x="307" y="432" width="3" height="13" fill="#c0c0c0" />
<rect x="315" y="432" width="3" height="11" fill="#c0c0c0" />
<rect x="323" y="432" width="3" height="10" fill="#c0c0c0" />
<rect x="331" y="432" width="3" height="8" fill="#c0c0c0" />
<rect x="339" y="432" width="3" height="7" fill="#c0c0c0" />
<rect x="347" y="432" width="3" height="5" fill="#c0c0c0" />
<rect x="355" y="432" width="3" height="4" fill="#c0c0c0" />
<rect x="363" y="432" width="3" height="3" fill="#c0c0c0" />
<rect x="371" y="432" width="3" height="1" fill="#c0c0c0" />
<rect x="379" y="430" width="3" height="2" fill="#c0c0c0" />
<rect x="387" y="428" width="3" height="4" fill="#c0c0c0" />
<rect x="395" y="425" width="3" height="7" fill="#c0c0c0" />
<rect x="403" y="422" width="3" height="10" fill="#c0c0c0" />
<rect x="411" y="420" width="3" height="12" fill="#c0c0c0" />
<rect x="419" y="419" width="3" height="13" fill="#c0c0c0" />
<rect x="427" y="416" width="3" height="16" fill="#c0c0c0" />
<rect x="435" y="413" width="3" height="19" fill="#c0c0c0" />
<rect x="443" y="412" width="3" height="20" fill="#c0c0c0" />
<rect x="451" y="412" width="3" height="20" fill="#c0c0c0" />
<rect x="459" y="411" width="3" height="21" fill="#c0c0c0" />
<rect x="467" y="411" width="3" height="21" fill="#c0c0c0" />
<rect x="475" y="410" width="3" height="22" fill="#c0c0c0" />
<rect x="483" y="410" width="3" height="22" fill="#c0c0c0" />
<rect x="491" y="409" width="3" height="23" fill="#c0c0c0" />
<rect x="499" y="409" width="3" height="23" fill="#c0c0c0" />
<rect x="507" y="409" width="3" height="23" fill="#c0c0c0" />
<rect x="515" y="409" width="3" height="23" fill="#c0c0c0" />
<rect x="523" y="413" width="3" height="19" fill="#c0c0c0" />
<rect x="531" y="415" width="3" height="17" fill="#c0c0c0" />
<rect x="539" y="419" width="3" height="13" fill="#c0c0c0" />
<rect x="547" y="422" width="3" height="10" fill="#c0c0c0" />
<rect x="555" y="425" width="3" height="7" fill="#c0c0c0" />
<rect x="563" y="427" width="3" height="5" fill="#c0c0c0" />
<rect x="571" y="429" width="3" height="3" fill="#c0c0c0" />
<rect x="579" y="432" width="3" height="2" fill="#c0c0c0" />
<rect x="587" y="432" width="3" height="6" fill="#c0c0c0" />
<rect x="595" y="432" width="3" height="8" fill="#c0c0c0" />
<rect x="603" y="432" width="3" height="10" fill="#c0c0c0" />
<rect x="611" y="432" width="3" height="10" fill="#c0c0c0" />
<rect x="619" y="432" width="3" height="12" fill="#c0c0c0" />
<rect x="627" y="432" width="3" height="15" fill="#c0c0c0" />
<rect x="635" y="432" width="3" height="16" fill="#c0c0c0" />
<rect x="643" y="432" width="3" height="19" fill="#c0c0c0" />
<rect x="651" y="432" width="3" height="20" fill="#c0c0c0" />
<rect x="659" y="432" width="3" height="22" fill="#c0c0c0" />
<rect x="667" y="432" width="3" height="23" fill="#c0c0c0" />
<rect x="675" y="432" width="3" height="24" fill="#c0c0c0" />
<rect x="683" y="432" width="3" height="26" fill="#c0c0c0" />
<rect x="691" y="432" width="3" height="29" fill="#c0c0c0" />
<rect x="699" y="432" width="3" height="30" fill="#c0c0c0" />
<rect x="707" y="432" width="3" height="31" fill="#c0c0c0" />
<rect x="715" y="432" width="3" height="31" fill="#c0c0c0" />
<rect x="723" y="432" width="3" height="32" fill="#c0c0c0" />
<rect x="731" y="432" width="3" height="33" fill="#c0c0c0" />
<rect x="739" y="432" width="3" height="37" fill="#c0c0c0" />
<rect x="747" y="432" width="3" height="38" fill="#c0c0c0" />
<rect x="755" y="432" width="3" height="38" fill="#c0c0c0" />
<rect x="763" y="432" width="3" height="35" fill="#c0c0c0" />
<rect x="771" y="432" width="3" height="31" fill="#c0c0c0" />
<rect x="779" y="432" width="3" height="28" fill="#c0c0c0" />
<rect x="787" y="432" width="3" height="24" fill="#c0c0c0" />
<rect x="795" y="432" width="3" height="21" fill="#c0c0c0" />
<rect x="803" y="432" width="3" height="20" fill="#c0c0c0" />
<rect x="811" y="432" width="3" height="20" fill="#c0c0c0" />
<rect x="819" y="432" width="3" height="17" fill="#c0c0c0" />
<rect x="827" y="432" width="3" height="15" fill="#c0c0c0" />
<rect x="835" y="432" width="3" height="14" fill="#c0c0c0" />
<rect x="843" y="432" width="3" height="14" fill="#c0c0c0" />
<rect x="851" y="432" width="3" height="14" fill="#c0c0c0" />
<rect x="859" y="432" width="3" height="13" fill="#c0c0c0" />
<rect x="867" y="432" width="3" height="9" fill="#c0c0c0" />
<rect x="875" y="432" width="3" height="6" fill="#c0c0c0" />
<rect x="883" y="432" width="3" height="3" fill="#c0c0c0" />
<rect x="891" y="432" width="3" height="1" fill="#c0c0c0" />
<rect x="899" y="430" width="3" height="2" fill="#c0c0c0" />
<rect x="907" y="429" width="3" height="3" fill="#c0c0c0" />
<rect x="915" y="427" width="3" height="5" fill="#c0c0c0" />
<path d="M505 410h35v1h-35zM488 411h17v1h-17zM540 411h6v1h-6zM482 412h6v1h-6zM546 412h5v1h-5zM476 413h6v1h-6zM551 413h5v1h-5zM470 414h6v1h-6zM556 414h4v1h-4zM465 415h5v1h-5zM560 415h3v1h-3zM459 416h6v1h-6zM563 416h3v1h-3zM453 417h6v1h-6zM566 417h3v1h-3zM447 418h6v1h-6zM569 418h3v1h-3zM443 419h4v1h-4zM572 419h4v1h-4zM441 420h2v1h-2zM576 420h4v1h-4zM439 421h2v1h-2zM580 421h3v1h-3zM437 422h2v1h-2zM583 422h2v1h-2zM435 423h2v1h-2zM585 423h3v1h-3zM431 424h4v1h-4zM588 424h2v1h-2zM173 425h32v1h-32zM426 425h5v1h-5zM590 425h3v1h-3zM166 426h7v1h-7zM205 426h5v1h-5zM422 426h4v1h-4zM593 426h3v1h-3zM161 427h5v1h-5zM210 427h4v1h-4zM417 427h5v1h-5zM596 427h3v1h-3zM157 428h4v1h-4zM214 428h4v1h-4zM412 428h5v1h-5zM599 428h3v1h-3zM154 429h3v1h-3zM218 429h5v1h-5zM408 429h4v1h-4zM602 429h2v1h-2zM150 430h4v1h-4zM223 430h7v1h-7zM405 430h3v1h-3zM604 430h2v1h-2zM147 431h3v1h-3zM230 431h6v1h-6zM402 431h3v1h-3zM606 431h2v1h-2zM144 432h3v1h-3zM236 432h5v1h-5zM398 432h4v1h-4zM608 432h4v1h-4zM142 433h2v1h-2zM241 433h4v1h-4zM393 433h5v1h-5zM612 433h4v1h-4zM139 434h3v1h-3zM245 434h4v1h-4zM389 434h4v1h-4zM616 434h4v1h-4zM136 435h3v1h-3zM249 435h4v1h-4zM384 435h5v1h-5zM620 435h3v1h-3zM913 435h3v1h-3zM134 436h2v1h-2zM253 436h5v1h-5zM378 436h6v1h-6zM623 436h3v1h-3zM909 436h4v1h-4zM131 437h3v1h-3zM258 437h6v1h-6zM370 437h8v1h-8zM626 437h4v1h-4zM905 437h4v1h-4zM129 438h2v1h-2zM264 438h5v1h-5zM362 438h8v1h-8zM630 438h3v1h-3zM901 438h4v1h-4zM126 439h3v1h-3zM269 439h6v1h-6zM356 439h6v1h-6zM633 439h3v1h-3zM897 439h4v1h-4zM124 440h2v1h-2zM275 440h6v1h-6zM350 440h6v1h-6zM636 440h3v1h-3zM893 440h4v1h-4zM122 441h2v1h-2zM281 441h6v1h-6zM345 441h5v1h-5zM639 441h3v1h-3zM889 441h4v1h-4zM119 442h3v1h-3zM287 442h17v1h-17zM335 442h10v1h-10zM642 442h3v1h-3zM884 442h5v1h-5zM117 443h2v1h-2zM304 443h31v1h-31zM645 443h4v1h-4zM876 443h8v1h-8zM114 444h3v1h-3zM649 444h4v1h-4zM870 444h6v1h-6zM3 445h7v1h-7zM112 445h2v1h-2zM653 445h4v1h-4zM865 445h5v1h-5zM10 446h9v1h-9zM109 446h3v1h-3zM657 446h6v1h-6zM860 446h5v1h-5zM19 447h4v1h-4zM107 447h2v1h-2zM663 447h6v1h-6zM855 447h5v1h-5zM23 448h4v1h-4zM104 448h3v1h-3zM669 448h5v1h-5zM850 448h5v1h-5zM27 449h4v1h-4zM102 449h2v1h-2zM674 449h4v1h-4zM845 449h5v1h-5zM31 450h5v1h-5zM99 450h3v1h-3zM678 450h3v1h-3zM840 450h5v1h-5zM36 451h6v1h-6zM95 451h4v1h-4zM681 451h4v1h-4zM836 451h4v1h-4zM42 452h5v1h-5zM91 452h4v1h-4zM685 452h5v1h-5zM832 452h4v1h-4zM47 453h7v1h-7zM87 453h4v1h-4zM690 453h6v1h-6zM828 453h4v1h-4zM54 454h8v1h-8zM82 454h5v1h-5zM696 454h6v1h-6zM826 454h2v1h-2zM62 455h20v1h-20zM702 455h4v1h-4zM824 455h2v1h-2zM706 456h4v1h-4zM822 456h2v1h-2zM710 457h6v1h-6zM818 457h4v1h-4zM716 458h6v1h-6zM812 458h6v1h-6zM722 459h7v1h-7zM808 459h4v1h-4zM729 460h6v1h-6zM805 460h3v1h-3zM735 461h6v1h-6zM801 461h4v1h-4zM741 462h5v1h-5zM798 462h3v1h-3zM746 463h6v1h-6zM793 463h5v1h-5zM752 464h7v1h-7zM787 464h6v1h-6zM759 465h28v1h-28z" fill="#ff0000"/>
<line x1="5" y1="497.5" x2="1166" y2="497.5" stroke="#c0c0c0" stroke-width="1" stroke-dasharray="3,3"/>
<line x1="5" y1="525.5" x2="1166" y2="525.5" stroke="#c0c0c0" stroke-width="1" stroke-dasharray="3,3"/>
<path d="M435 495h2v1h-2zM432 496h3v1h-3zM437 496h1v1h-1zM430 497h2v1h-2zM438 497h1v1h-1zM427 498h3v1h-3zM439 498h2v1h-2zM474 498h5v1h-5zM490 498h7v1h-7zM425 499h2v1h-2zM441 499h1v1h-1zM470 499h4v1h-4zM479 499h4v1h-4zM486 499h4v1h-4zM497 499h8v1h-8zM408 500h7v1h-7zM423 500h2v1h-2zM442 500h1v1h-1zM466 500h4v1h-4zM483 500h3v1h-3zM505 500h12v1h-12zM115 501h4v1h-4zM394 501h14v1h-14zM415 501h4v1h-4zM421 501h2v1h-2zM443 501h1v1h-1zM462 501h4v1h-4zM517 501h1v2h-1zM113 502h2v1h-2zM119 502h4v1h-4zM390 502h4v1h-4zM419 502h2v1h-2zM444 502h18v1h-18zM111 503h2v1h-2zM123 503h10v1h-10zM388 503h2v1h-2zM518 503h1v1h-1zM109 504h2v1h-2zM133 504h2v1h-2zM386 504h2v1h-2zM519 504h1v1h-1zM914 504h3v1h-3zM106 505h3v1h-3zM135 505h2v1h-2zM384 505h2v1h-2zM910 505h4v1h-4zM520 505h1v2h-1zM102 506h4v1h-4zM137 506h1v1h-1zM372 506h3v1h-3zM383 506h1v1h-1zM874 506h7v1h-7zM888 506h22v1h-22zM99 507h3v1h-3zM138 507h2v1h-2zM370 507h2v1h-2zM375 507h4v1h-4zM381 507h2v1h-2zM521 507h1v1h-1zM870 507h4v1h-4zM881 507h7v1h-7zM96 508h3v1h-3zM140 508h3v1h-3zM347 508h6v1h-6zM368 508h2v1h-2zM379 508h2v1h-2zM522 508h1v1h-1zM531 508h2v1h-2zM868 508h2v1h-2zM94 509h2v1h-2zM143 509h4v1h-4zM345 509h2v1h-2zM353 509h6v1h-6zM367 509h1v1h-1zM528 509h3v1h-3zM533 509h2v1h-2zM866 509h2v1h-2zM523 509h1v2h-1zM72 510h7v1h-7zM90 510h4v1h-4zM147 510h34v1h-34zM343 510h2v1h-2zM359 510h4v1h-4zM365 510h2v1h-2zM526 510h2v1h-2zM535 510h1v1h-1zM864 510h2v1h-2zM68 511h4v1h-4zM79 511h4v1h-4zM86 511h4v1h-4zM181 511h2v1h-2zM320 511h17v1h-17zM341 511h2v1h-2zM363 511h2v1h-2zM524 511h2v1h-2zM536 511h1v1h-1zM863 511h1v1h-1zM66 512h2v1h-2zM83 512h3v1h-3zM183 512h2v1h-2zM195 512h3v1h-3zM312 512h8v1h-8zM337 512h4v1h-4zM537 512h2v1h-2zM820 512h10v1h-10zM861 512h2v1h-2zM65 513h1v1h-1zM185 513h1v1h-1zM192 513h3v1h-3zM198 513h3v1h-3zM252 513h2v1h-2zM307 513h5v1h-5zM539 513h1v1h-1zM562 513h4v1h-4zM786 513h12v1h-12zM818 513h2v1h-2zM830 513h3v1h-3zM859 513h2v1h-2zM50 514h4v1h-4zM64 514h1v1h-1zM186 514h2v1h-2zM190 514h2v1h-2zM201 514h2v1h-2zM251 514h1v1h-1zM254 514h2v1h-2zM274 514h4v1h-4zM305 514h2v1h-2zM540 514h5v1h-5zM558 514h4v1h-4zM566 514h2v1h-2zM771 514h6v1h-6zM782 514h4v1h-4zM798 514h3v1h-3zM817 514h1v1h-1zM833 514h2v1h-2zM857 514h2v1h-2zM46 515h4v1h-4zM54 515h3v1h-3zM62 515h2v1h-2zM188 515h2v1h-2zM203 515h3v1h-3zM250 515h1v1h-1zM256 515h2v1h-2zM270 515h4v1h-4zM278 515h3v1h-3zM303 515h2v1h-2zM545 515h13v1h-13zM568 515h2v1h-2zM769 515h2v1h-2zM777 515h5v1h-5zM801 515h2v1h-2zM816 515h1v1h-1zM835 515h6v1h-6zM855 515h2v1h-2zM43 516h3v1h-3zM57 516h2v1h-2zM61 516h1v1h-1zM206 516h3v1h-3zM249 516h1v1h-1zM258 516h2v1h-2zM264 516h6v1h-6zM281 516h2v1h-2zM301 516h2v1h-2zM570 516h2v1h-2zM767 516h2v1h-2zM803 516h4v1h-4zM814 516h2v1h-2zM841 516h8v1h-8zM853 516h2v1h-2zM41 517h2v1h-2zM59 517h2v1h-2zM209 517h2v1h-2zM248 517h1v1h-1zM260 517h4v1h-4zM283 517h2v1h-2zM300 517h1v1h-1zM572 517h2v1h-2zM608 517h6v1h-6zM765 517h2v1h-2zM807 517h4v1h-4zM813 517h1v1h-1zM849 517h4v1h-4zM39 518h2v1h-2zM211 518h6v1h-6zM247 518h1v1h-1zM285 518h2v1h-2zM298 518h2v1h-2zM574 518h3v1h-3zM596 518h12v1h-12zM614 518h3v1h-3zM764 518h1v1h-1zM811 518h2v1h-2zM37 519h2v1h-2zM217 519h14v1h-14zM246 519h1v1h-1zM287 519h2v1h-2zM296 519h2v1h-2zM577 519h2v1h-2zM594 519h2v1h-2zM617 519h2v1h-2zM763 519h1v1h-1zM36 520h1v1h-1zM231 520h4v1h-4zM245 520h1v1h-1zM289 520h1v1h-1zM295 520h1v1h-1zM579 520h3v1h-3zM592 520h2v1h-2zM619 520h4v1h-4zM762 520h1v1h-1zM35 521h1v1h-1zM235 521h10v1h-10zM290 521h2v1h-2zM293 521h2v1h-2zM582 521h3v1h-3zM591 521h1v1h-1zM623 521h4v1h-4zM632 521h6v1h-6zM761 521h1v1h-1zM34 522h1v1h-1zM292 522h1v1h-1zM585 522h2v1h-2zM589 522h2v1h-2zM627 522h5v1h-5zM638 522h3v1h-3zM760 522h1v1h-1zM33 523h1v1h-1zM587 523h2v1h-2zM641 523h2v1h-2zM759 523h1v1h-1zM643 524h22v1h-22zM758 524h1v1h-1zM32 524h1v2h-1zM4 525h2v1h-2zM665 525h8v1h-8zM757 525h1v1h-1zM6 526h2v1h-2zM31 526h1v1h-1zM673 526h6v1h-6zM756 526h1v1h-1zM8 527h2v1h-2zM30 527h1v1h-1zM679 527h4v1h-4zM699 527h14v1h-14zM754 527h2v1h-2zM10 528h2v1h-2zM29 528h1v1h-1zM683 528h3v1h-3zM697 528h2v1h-2zM713 528h8v1h-8zM752 528h2v1h-2zM12 529h17v1h-17zM686 529h3v1h-3zM695 529h2v1h-2zM721 529h8v1h-8zM751 529h1v1h-1zM689 530h2v1h-2zM693 530h2v1h-2zM729 530h5v1h-5zM749 530h2v1h-2zM691 531h2v1h-2zM734 531h2v1h-2zM747 531h2v1h-2zM736 532h2v1h-2zM744 532h3v1h-3zM738 533h2v1h-2zM742 533h2v1h-2zM740 534h2v1h-2z" fill="#1e90ff"/>
</g>
<path d="M6.7,34.3 L14.3,34.3 L10.5,29.9 Z" fill="#000"/>
<text x="20" y="35" font-size="10.1" fill="#000" textLength="68" lengthAdjust="spacingAndGlyphs" stroke="#000" stroke-width="0.25" >AUDUSD-,Daily</text>
<text x="94" y="35" font-size="10.1" fill="#000" textLength="141" lengthAdjust="spacingAndGlyphs" stroke="#000" stroke-width="0.25" >0.72307 0.72715 0.72120 0.72574</text>
<text x="8.3" y="417" font-size="10.1" fill="#000" textLength="150.4" lengthAdjust="spacingAndGlyphs" stroke="#000" stroke-width="0.25" >MACD(12,26,9) 0.001334 -0.000614</text>
<text x="8.3" y="488" font-size="10.1" fill="#000" textLength="68" lengthAdjust="spacingAndGlyphs" stroke="#000" stroke-width="0.25" >RSI(14) 60.7506</text>
<g shape-rendering="crispEdges">
<rect x="1167" y="36" width="2" height="1" fill="#000" />
<rect x="1167" y="69" width="2" height="1" fill="#000" />
<rect x="1167" y="102" width="2" height="1" fill="#000" />
<rect x="1167" y="135" width="2" height="1" fill="#000" />
<rect x="1167" y="168" width="2" height="1" fill="#000" />
<rect x="1167" y="201" width="2" height="1" fill="#000" />
<rect x="1167" y="234" width="2" height="1" fill="#000" />
<rect x="1167" y="267" width="2" height="1" fill="#000" />
<rect x="1167" y="300" width="2" height="1" fill="#000" />
<rect x="1167" y="333" width="2" height="1" fill="#000" />
<rect x="1167" y="366" width="2" height="1" fill="#000" />
<rect x="1167" y="405" width="1" height="1" fill="#000" />
<rect x="1167" y="432" width="1" height="1" fill="#000" />
<rect x="1167" y="472" width="1" height="1" fill="#000" />
<rect x="1167" y="476" width="1" height="1" fill="#000" />
<rect x="1167" y="546" width="1" height="1" fill="#000" />
</g>
<text x="1172" y="40" font-size="10.1" fill="#000" textLength="33" lengthAdjust="spacingAndGlyphs" stroke="#000" stroke-width="0.25" >0.75640</text>
<text x="1172" y="73" font-size="10.1" fill="#000" textLength="33" lengthAdjust="spacingAndGlyphs" stroke="#000" stroke-width="0.25" >0.75115</text>
<text x="1172" y="106" font-size="10.1" fill="#000" textLength="33" lengthAdjust="spacingAndGlyphs" stroke="#000" stroke-width="0.25" >0.74590</text>
<text x="1172" y="139" font-size="10.1" fill="#000" textLength="33" lengthAdjust="spacingAndGlyphs" stroke="#000" stroke-width="0.25" >0.74065</text>
<text x="1172" y="172" font-size="10.1" fill="#000" textLength="33" lengthAdjust="spacingAndGlyphs" stroke="#000" stroke-width="0.25" >0.73540</text>
<text x="1172" y="205" font-size="10.1" fill="#000" textLength="33" lengthAdjust="spacingAndGlyphs" stroke="#000" stroke-width="0.25" >0.73015</text>
<text x="1172" y="238" font-size="10.1" fill="#000" textLength="33" lengthAdjust="spacingAndGlyphs" stroke="#000" stroke-width="0.25" >0.72490</text>
<text x="1172" y="271" font-size="10.1" fill="#000" textLength="33" lengthAdjust="spacingAndGlyphs" stroke="#000" stroke-width="0.25" >0.71965</text>
<text x="1172" y="304" font-size="10.1" fill="#000" textLength="33" lengthAdjust="spacingAndGlyphs" stroke="#000" stroke-width="0.25" >0.71440</text>
<text x="1172" y="337" font-size="10.1" fill="#000" textLength="33" lengthAdjust="spacingAndGlyphs" stroke="#000" stroke-width="0.25" >0.70915</text>
<text x="1172" y="370" font-size="10.1" fill="#000" textLength="33" lengthAdjust="spacingAndGlyphs" stroke="#000" stroke-width="0.25" >0.70390</text>
<text x="1170.4" y="415" font-size="10.1" fill="#000" textLength="36.2" lengthAdjust="spacingAndGlyphs" stroke="#000" stroke-width="0.25" >0.006201</text>
<text x="1170.2" y="436" font-size="10.1" fill="#000" textLength="17.7" lengthAdjust="spacingAndGlyphs" stroke="#000" stroke-width="0.25" >0.00</text>
<text x="1170.4" y="470" font-size="10.1" fill="#000" textLength="39.5" lengthAdjust="spacingAndGlyphs" stroke="#000" stroke-width="0.25" >-0.009197</text>
<text x="1170.6" y="486" font-size="10.1" fill="#000" textLength="14.5" lengthAdjust="spacingAndGlyphs" stroke="#000" stroke-width="0.25" >100</text>
<text x="1169.8" y="501" font-size="10.1" fill="#000" textLength="9.2" lengthAdjust="spacingAndGlyphs" stroke="#000" stroke-width="0.25" >70</text>
<text x="1169.8" y="529" font-size="10.1" fill="#000" textLength="9.2" lengthAdjust="spacingAndGlyphs" stroke="#000" stroke-width="0.25" >30</text>
<text x="1170.5" y="544" font-size="10.1" fill="#000" textLength="4.3" lengthAdjust="spacingAndGlyphs" stroke="#000" stroke-width="0.25" >0</text>
<rect x="1168" y="38" width="41" height="11" fill="#ff0000" shape-rendering="crispEdges"/>
<text x="1172" y="47" font-size="10.1" fill="#fff" textLength="33" lengthAdjust="spacingAndGlyphs" stroke="#fff" stroke-width="0.25" >0.75512</text>
<rect x="1168" y="133" width="41" height="11" fill="#ff0000" shape-rendering="crispEdges"/>
<text x="1172" y="142" font-size="10.1" fill="#fff" textLength="33" lengthAdjust="spacingAndGlyphs" stroke="#fff" stroke-width="0.25" >0.74002</text>
<rect x="1168" y="224" width="41" height="11" fill="#000000" shape-rendering="crispEdges"/>
<text x="1172" y="233" font-size="10.1" fill="#fff" textLength="33" lengthAdjust="spacingAndGlyphs" stroke="#fff" stroke-width="0.25" >0.72574</text>
<rect x="1168" y="233" width="41" height="11" fill="#00ff00" shape-rendering="crispEdges"/>
<text x="1172" y="242" font-size="10.1" fill="#fff" textLength="33" lengthAdjust="spacingAndGlyphs" stroke="#fff" stroke-width="0.25" >0.72412</text>
<rect x="1168" y="321" width="41" height="11" fill="#0000cd" shape-rendering="crispEdges"/>
<text x="1172" y="330" font-size="10.1" fill="#fff" textLength="33" lengthAdjust="spacingAndGlyphs" stroke="#fff" stroke-width="0.25" >0.71012</text>
<rect x="1168" y="392" width="41" height="11" fill="#0000ff" shape-rendering="crispEdges"/>
<text x="1172" y="401" font-size="10.1" fill="#fff" textLength="33" lengthAdjust="spacingAndGlyphs" stroke="#fff" stroke-width="0.25" >0.69884</text>
<g shape-rendering="crispEdges">
<rect x="4" y="548" width="1" height="3" fill="#000" />
<rect x="68" y="548" width="1" height="3" fill="#000" />
<rect x="132" y="548" width="1" height="3" fill="#000" />
<rect x="196" y="548" width="1" height="3" fill="#000" />
<rect x="260" y="548" width="1" height="3" fill="#000" />
<rect x="324" y="548" width="1" height="3" fill="#000" />
<rect x="388" y="548" width="1" height="3" fill="#000" />
<rect x="452" y="548" width="1" height="3" fill="#000" />
<rect x="516" y="548" width="1" height="3" fill="#000" />
<rect x="580" y="548" width="1" height="3" fill="#000" />
<rect x="644" y="548" width="1" height="3" fill="#000" />
<rect x="708" y="548" width="1" height="3" fill="#000" />
<rect x="772" y="548" width="1" height="3" fill="#000" />
<rect x="836" y="548" width="1" height="3" fill="#000" />
<rect x="900" y="548" width="1" height="3" fill="#000" />
</g>
<text x="3.5" y="560" font-size="10.1" fill="#000" textLength="52.3" lengthAdjust="spacingAndGlyphs" stroke="#000" stroke-width="0.25" >18 Aug 2021</text>
<text x="67.5" y="560" font-size="10.1" fill="#000" textLength="52.3" lengthAdjust="spacingAndGlyphs" stroke="#000" stroke-width="0.25" >27 Aug 2021</text>
<text x="131.5" y="560" font-size="10.1" fill="#000" textLength="47.6" lengthAdjust="spacingAndGlyphs" stroke="#000" stroke-width="0.25" >6 Sep 2021</text>
<text x="195.5" y="560" font-size="10.1" fill="#000" textLength="52.8" lengthAdjust="spacingAndGlyphs" stroke="#000" stroke-width="0.25" >15 Sep 2021</text>
<text x="259.5" y="560" font-size="10.1" fill="#000" textLength="52.8" lengthAdjust="spacingAndGlyphs" stroke="#000" stroke-width="0.25" >24 Sep 2021</text>
<text x="323.5" y="560" font-size="10.1" fill="#000" textLength="45.6" lengthAdjust="spacingAndGlyphs" stroke="#000" stroke-width="0.25" >4 Oct 2021</text>
<text x="387.5" y="560" font-size="10.1" fill="#000" textLength="50.7" lengthAdjust="spacingAndGlyphs" stroke="#000" stroke-width="0.25" >13 Oct 2021</text>
<text x="451.5" y="560" font-size="10.1" fill="#000" textLength="50.7" lengthAdjust="spacingAndGlyphs" stroke="#000" stroke-width="0.25" >22 Oct 2021</text>
<text x="515.5" y="560" font-size="10.1" fill="#000" textLength="47.6" lengthAdjust="spacingAndGlyphs" stroke="#000" stroke-width="0.25" >1 Nov 2021</text>
<text x="579.5" y="560" font-size="10.1" fill="#000" textLength="52.8" lengthAdjust="spacingAndGlyphs" stroke="#000" stroke-width="0.25" >10 Nov 2021</text>
<text x="643.5" y="560" font-size="10.1" fill="#000" textLength="52.8" lengthAdjust="spacingAndGlyphs" stroke="#000" stroke-width="0.25" >19 Nov 2021</text>
<text x="707.5" y="560" font-size="10.1" fill="#000" textLength="52.8" lengthAdjust="spacingAndGlyphs" stroke="#000" stroke-width="0.25" >29 Nov 2021</text>
<text x="771.5" y="560" font-size="10.1" fill="#000" textLength="47.6" lengthAdjust="spacingAndGlyphs" stroke="#000" stroke-width="0.25" >8 Dec 2021</text>
<text x="835.5" y="560" font-size="10.1" fill="#000" textLength="52.8" lengthAdjust="spacingAndGlyphs" stroke="#000" stroke-width="0.25" >17 Dec 2021</text>
<text x="899.5" y="560" font-size="10.1" fill="#000" textLength="52.8" lengthAdjust="spacingAndGlyphs" stroke="#000" stroke-width="0.25" >27 Dec 2021</text>
<g shape-rendering="crispEdges">
<rect x="5" y="43" width="223" height="57" fill="#ffffff" />
<rect x="4" y="43" width="1" height="1" fill="#ffffff" />
<path d="M7.5,43.5 H58.5 V67.5 H115.5 V99.5 H7.5 Z" fill="url(#gb)" stroke="#0000a0" stroke-width="1"/>
<path d="M174.5,43.5 H225.5 V99.5 H118.5 V67.5 H174.5 Z" fill="url(#gb)" stroke="#0000a0" stroke-width="1"/>
<rect x="11" y="66" width="44" height="1" fill="#1c1cb8" />
<rect x="11" y="67" width="44" height="1" fill="#8a8aee" />
<rect x="178" y="66" width="44" height="1" fill="#1c1cb8" />
<rect x="178" y="67" width="44" height="1" fill="#8a8aee" />
<rect x="61" y="43" width="111" height="22" fill="#b8b8b8" />
<rect x="62" y="44" width="109" height="20" fill="#ffffff" />
<rect x="63" y="44" width="19" height="20" fill="url(#gs)" />
<rect x="82" y="44" width="1" height="20" fill="#b8b8b8" />
<rect x="151" y="44" width="19" height="20" fill="url(#gs)" />
<rect x="150" y="44" width="1" height="20" fill="#b8b8b8" />
</g>
<path d="M68.8,52.3 L74.2,52.3 L71.5,55.3 Z" fill="#5566aa"/>
<path d="M157.3,55.3 L162.7,55.3 L160,52.3 Z" fill="#5566aa"/>
<text x="123.5" y="58" font-size="12" fill="#000" textLength="23.2" lengthAdjust="spacingAndGlyphs" >3.00</text>
<text x="19.7" y="58.7" font-size="12" fill="#e8e8ff" textLength="25" lengthAdjust="spacingAndGlyphs" >SELL</text>
<text x="187.8" y="58.7" font-size="12" fill="#e8e8ff" textLength="23.2" lengthAdjust="spacingAndGlyphs" >BUY</text>
<text x="27" y="94.7" font-size="12" fill="#fff" textLength="24" lengthAdjust="spacingAndGlyphs" font-weight="bold" >0.72</text>
<text x="137" y="94.7" font-size="12" fill="#fff" textLength="24" lengthAdjust="spacingAndGlyphs" font-weight="bold" >0.72</text>
<text x="55.4" y="94.6" font-size="34.5" fill="#fff" textLength="34.2" lengthAdjust="spacingAndGlyphs" >57</text>
<text x="166.2" y="94.6" font-size="34.5" fill="#fff" textLength="35.2" lengthAdjust="spacingAndGlyphs" >59</text>
<text x="94" y="79" font-size="12" fill="#fff" font-weight="bold" >4</text>
<text x="205.2" y="79" font-size="12" fill="#fff" font-weight="bold" >6</text>
<g shape-rendering="crispEdges">
<rect x="96" y="0" width="1" height="17" fill="#a0a0a0" />
<rect x="97" y="0" width="24" height="17" fill="#f7f7f7" />
<rect x="152" y="17" width="26" height="1" fill="#a0a0a0" />
<rect x="152" y="16" width="25" height="1" fill="#fafafa" />
<rect x="176" y="0" width="1" height="17" fill="#fafafa" />
<rect x="177" y="0" width="1" height="18" fill="#a0a0a0" />
<rect x="179" y="0" width="1" height="19" fill="#a8a8a8" />
<rect x="180" y="0" width="1" height="19" fill="#ffffff" />
</g>
<text x="0.3" y="10.7" font-size="9.3" fill="#484848" textLength="4.6" lengthAdjust="spacingAndGlyphs" >5</text>
<text x="16" y="10.7" font-size="9.3" fill="#484848" textLength="17.2" lengthAdjust="spacingAndGlyphs" >M30</text>
<text x="46.5" y="10.7" font-size="9.3" fill="#484848" textLength="12" lengthAdjust="spacingAndGlyphs" >H1</text>
<text x="73.8" y="10.7" font-size="9.3" fill="#484848" textLength="12.4" lengthAdjust="spacingAndGlyphs" >H4</text>
<text x="102.8" y="10.7" font-size="9.3" fill="#484848" textLength="11.2" lengthAdjust="spacingAndGlyphs" >D1</text>
<text x="130" y="10.7" font-size="9.3" fill="#484848" textLength="14.1" lengthAdjust="spacingAndGlyphs" >W1</text>
<text x="155.7" y="9.9" font-size="9.6" fill="#000" textLength="14.5" lengthAdjust="spacingAndGlyphs" stroke="#000" stroke-width="0.25" >MN</text>
<g shape-rendering="crispEdges">
<rect x="0" y="568" width="1210" height="1" fill="#e0e0e0" />
<rect x="0" y="570" width="1210" height="23" fill="#f0f0f0" />
<rect x="0" y="570" width="1210" height="1" fill="#000" />
<rect x="0" y="571" width="1210" height="1" fill="#fafafa" />
<rect x="0" y="590" width="1210" height="1" fill="#fbfbfb" />
<rect x="0" y="21" width="1" height="547" fill="#666" />
<rect x="0" y="571" width="1" height="18" fill="#666" />
<rect x="1" y="572" width="1" height="17" fill="#fafafa" />
<rect x="213" y="570" width="108" height="19" fill="#000" />
<rect x="214" y="570" width="106" height="18" fill="#fff" />
<rect x="321" y="571" width="1" height="18" fill="#9a9a9a" />
<rect x="105" y="573" width="1" height="14" fill="#808080" />
<rect x="417" y="573" width="1" height="14" fill="#808080" />
<rect x="525" y="573" width="1" height="14" fill="#808080" />
<rect x="637" y="573" width="1" height="14" fill="#808080" />
<rect x="745" y="573" width="1" height="14" fill="#808080" />
<rect x="849" y="573" width="1" height="14" fill="#808080" />
<rect x="937" y="573" width="1" height="14" fill="#808080" />
<rect x="1021" y="573" width="1" height="14" fill="#808080" />
</g>
<text x="16.3" y="585" font-size="13" fill="#6e6e78" textLength="77.8" lengthAdjust="spacingAndGlyphs" >USDX,Weekly</text>
<text x="116.4" y="585" font-size="13" fill="#6e6e78" textLength="84.6" lengthAdjust="spacingAndGlyphs" >EURUSD-,Daily</text>
<text x="333.3" y="585" font-size="13" fill="#6e6e78" textLength="71.7" lengthAdjust="spacingAndGlyphs" >USDCHF-,H4</text>
<text x="428.1" y="585" font-size="13" fill="#6e6e78" textLength="85.9" lengthAdjust="spacingAndGlyphs" >USDCAD-,Daily</text>
<text x="537.2" y="585" font-size="13" fill="#6e6e78" textLength="87.6" lengthAdjust="spacingAndGlyphs" >USDCNH-,Daily</text>
<text x="647.9" y="585" font-size="13" fill="#6e6e78" textLength="86" lengthAdjust="spacingAndGlyphs" >XAUUSD-,Daily</text>
<text x="755.4" y="585" font-size="13" fill="#6e6e78" textLength="82.6" lengthAdjust="spacingAndGlyphs" >UKOil-,Weekly</text>
<text x="861" y="585" font-size="13" fill="#6e6e78" textLength="64.4" lengthAdjust="spacingAndGlyphs" >DJ30-,Daily</text>
<text x="948.1" y="585" font-size="13" fill="#6e6e78" textLength="62" lengthAdjust="spacingAndGlyphs" >UK100-,H1</text>
<text x="224" y="585" font-size="13" fill="#000" textLength="86" lengthAdjust="spacingAndGlyphs" >AUDUSD-,Daily</text>
<path d="M1185.3,576 L1185.3,582 L1181.4,579 Z" fill="#8c8c8c"/>
<path d="M1200.6,576 L1200.6,582 L1204.5,579 Z" fill="#8c8c8c"/>
</svg></body></html>
